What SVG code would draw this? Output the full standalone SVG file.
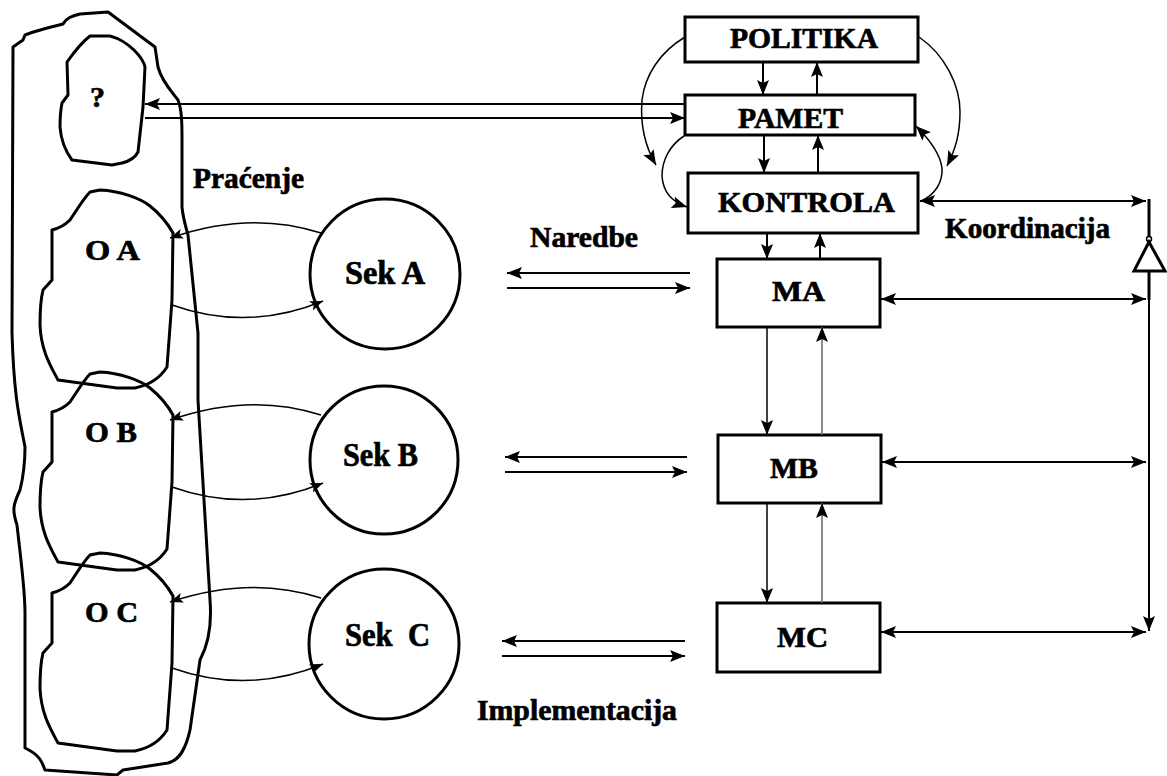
<svg xmlns="http://www.w3.org/2000/svg" width="1167" height="776" viewBox="0 0 1167 776">
<style>
.shape{fill:none;stroke:#000;stroke-width:3;stroke-linejoin:round}
.box{fill:#fff;stroke:#000;stroke-width:3}
.lbl{font-family:"Liberation Serif","Times New Roman",serif;font-weight:bold;font-size:30px;fill:#000;stroke:#000;stroke-width:0.7;white-space:pre}
.big{font-size:33px}
.ln{fill:none;stroke:#000;stroke-width:2}
.thin{fill:none;stroke:#000;stroke-width:1.5}
.gray{fill:none;stroke:#666;stroke-width:1.5}
</style>
<defs>
<marker id="ah" viewBox="0 0 15 12" refX="15" refY="6" markerWidth="15" markerHeight="12" orient="auto-start-reverse" markerUnits="userSpaceOnUse">
<path d="M0,0 L15,6 L0,12 L3,6 z" fill="#000"/>
</marker>
<marker id="ahs" viewBox="0 0 13 10" refX="13" refY="5" markerWidth="13" markerHeight="10" orient="auto-start-reverse" markerUnits="userSpaceOnUse">
<path d="M0,0 L13,5 L0,10 L3,5 z" fill="#000"/>
</marker>
<path id="oshape" d="M52,230 C60,228 65,225 70,220 C78,208 84,198 90,192 L100,190 C120,191 140,198 150,206 C160,214 168,224 173,233 L172,300 L167,367 C160,378 150,385 135,388 L117,388 L58,380 C50,365 41,350 40,325 C40,310 41,298 43,290 L52,280 Z"/>
</defs>

<g id="outer">
<path class="shape" d="M13,47 L23,40 L25,35 C35,31 55,26 63,24 C66,18 72,16 80,14 L108,12 L155,47 L158,67 C162,82 172,92 178,100 C182,110 182,125 182,140 L182,207 C183,218 186,228 188,235 L198,333 L198,400 L210,600 C212,625 208,645 200,660 L190,730 C186,748 180,760 168,763 L123,770 L117,775 L45,770 C42,762 40,755 25,748 L25,613 C25,590 22,570 17,525 C12,510 13,505 20,490 C25,470 25,455 25,447 C20,420 14,400 12,333 Z"/>
</g>

<g id="node-q">
<path class="shape" d="M67,62 C72,55 82,42 90,36 L110,36 C118,38 128,44 134,50 C140,56 144,62 145,67 L143,107 L138,152 C135,158 130,161 122,163 L112,165 L72,160 C66,152 61,140 60,127 C60,115 61,108 62,103 L68,95 Z"/>
<text class="lbl" x="90" y="107" textLength="15" lengthAdjust="spacingAndGlyphs">?</text>
</g>

<g id="node-oa">
<use href="#oshape" class="shape"/>
<text class="lbl" x="85" y="260" textLength="55" lengthAdjust="spacingAndGlyphs">O A</text>
</g>
<g id="node-ob">
<use href="#oshape" class="shape" transform="translate(0,182)"/>
<text class="lbl" x="85" y="442" textLength="52" lengthAdjust="spacingAndGlyphs">O B</text>
</g>
<g id="node-oc">
<use href="#oshape" class="shape" transform="translate(0,363)"/>
<text class="lbl" x="85" y="622" textLength="53" lengthAdjust="spacingAndGlyphs">O C</text>
</g>

<g id="node-seka">
<circle class="shape" cx="385" cy="274" r="75"/>
<text class="lbl big" x="345" y="284" textLength="80" lengthAdjust="spacingAndGlyphs">Sek A</text>
</g>
<g id="node-sekb">
<circle class="shape" cx="384" cy="460" r="74"/>
<text class="lbl big" x="343" y="466" textLength="75" lengthAdjust="spacingAndGlyphs">Sek B</text>
</g>
<g id="node-sekc">
<circle class="shape" cx="384" cy="644" r="75"/>
<text class="lbl big" x="345" y="646" textLength="85" lengthAdjust="spacingAndGlyphs">Sek  C</text>
</g>

<g id="node-politika">
<rect class="box" x="685" y="17" width="233" height="45"/>
<text class="lbl" x="730" y="48" textLength="148" lengthAdjust="spacingAndGlyphs">POLITIKA</text>
</g>
<g id="node-pamet">
<rect class="box" x="685" y="95" width="230" height="40"/>
<text class="lbl" x="738" y="128" textLength="105" lengthAdjust="spacingAndGlyphs">PAMET</text>
</g>
<g id="node-kontrola">
<rect class="box" x="688" y="173" width="230" height="60"/>
<text class="lbl" x="718" y="212" textLength="177" lengthAdjust="spacingAndGlyphs">KONTROLA</text>
</g>
<g id="node-ma">
<rect class="box" x="717" y="259" width="163" height="68"/>
<text class="lbl" x="772" y="301" textLength="53" lengthAdjust="spacingAndGlyphs">MA</text>
</g>
<g id="node-mb">
<rect class="box" x="718" y="435" width="163" height="68"/>
<text class="lbl" x="770" y="478" textLength="48" lengthAdjust="spacingAndGlyphs">MB</text>
</g>
<g id="node-mc">
<rect class="box" x="717" y="603" width="163" height="69"/>
<text class="lbl" x="777" y="647" textLength="51" lengthAdjust="spacingAndGlyphs">MC</text>
</g>

<g id="labels">
<text class="lbl" x="193" y="188" textLength="111" lengthAdjust="spacingAndGlyphs">Praćenje</text>
<text class="lbl" x="530" y="247" textLength="108" lengthAdjust="spacingAndGlyphs">Naredbe</text>
<text class="lbl" x="477" y="720" textLength="200" lengthAdjust="spacingAndGlyphs">Implementacija</text>
<text class="lbl" x="945" y="238" textLength="165" lengthAdjust="spacingAndGlyphs">Koordinacija</text>
</g>

<g id="connectors">
<line class="ln" x1="685" y1="104" x2="145" y2="104" marker-end="url(#ah)"/>
<line class="ln" x1="145" y1="118" x2="685" y2="118" marker-end="url(#ah)"/>
<path class="thin" d="M321,233 Q250,210 170,238" marker-end="url(#ahs)"/>
<path class="thin" d="M172,305 Q248,332 323,301" marker-end="url(#ahs)"/>
<path class="thin" d="M321,415 Q250,392 170,420" marker-end="url(#ahs)"/>
<path class="thin" d="M172,487 Q248,514 323,483" marker-end="url(#ahs)"/>
<path class="thin" d="M321,598 Q250,575 170,602" marker-end="url(#ahs)"/>
<path class="thin" d="M172,668 Q248,695 323,664" marker-end="url(#ahs)"/>
<line class="ln" x1="690" y1="273" x2="507" y2="273" marker-end="url(#ah)"/>
<line class="ln" x1="507" y1="288" x2="690" y2="288" marker-end="url(#ah)"/>
<line class="ln" x1="687" y1="457" x2="505" y2="457" marker-end="url(#ah)"/>
<line class="ln" x1="505" y1="472" x2="687" y2="472" marker-end="url(#ah)"/>
<line class="ln" x1="685" y1="641" x2="502" y2="641" marker-end="url(#ah)"/>
<line class="ln" x1="502" y1="656" x2="685" y2="656" marker-end="url(#ah)"/>
<line class="ln" x1="763" y1="62" x2="763" y2="95" marker-end="url(#ah)"/>
<line class="ln" x1="817" y1="95" x2="817" y2="62" marker-end="url(#ah)"/>
<line class="ln" x1="764" y1="135" x2="764" y2="173" marker-end="url(#ah)"/>
<line class="ln" x1="818" y1="173" x2="818" y2="135" marker-end="url(#ah)"/>
<line class="ln" x1="767" y1="233" x2="767" y2="259" marker-end="url(#ah)"/>
<line class="ln" x1="820" y1="259" x2="820" y2="233" marker-end="url(#ah)"/>
<line class="thin" x1="767" y1="327" x2="767" y2="435" marker-end="url(#ah)"/>
<line class="gray" x1="822" y1="435" x2="822" y2="327" marker-end="url(#ah)"/>
<line class="thin" x1="767" y1="503" x2="767" y2="603" marker-end="url(#ah)"/>
<line class="gray" x1="822" y1="603" x2="822" y2="503" marker-end="url(#ah)"/>
<path class="thin" d="M685,37 C660,52 645,75 642,100 C640,125 646,148 656,165" marker-end="url(#ah)"/>
<path class="thin" d="M684,136 C670,145 662,160 662,176 C663,192 672,202 687,207" marker-end="url(#ah)"/>
<path class="thin" d="M919,37 C945,55 960,85 960,112 C960,135 955,150 947,166" marker-end="url(#ah)"/>
<path class="thin" d="M916,126 C928,138 940,152 942,168 C943,182 935,195 921,201" marker-start="url(#ah)"/>
<line class="ln" x1="920" y1="201" x2="1146" y2="201" marker-start="url(#ah)" marker-end="url(#ah)"/>
<line class="ln" x1="881" y1="299" x2="1146" y2="299" marker-start="url(#ah)" marker-end="url(#ah)"/>
<line class="ln" x1="882" y1="462" x2="1146" y2="462" marker-start="url(#ah)" marker-end="url(#ah)"/>
<line class="ln" x1="881" y1="632" x2="1146" y2="632" marker-start="url(#ah)" marker-end="url(#ah)"/>
<line x1="1149" y1="199" x2="1149" y2="238" stroke="#000" stroke-width="3"/>
<circle cx="1149" cy="239" r="2.5" fill="#fff" stroke="#000" stroke-width="1.5"/>
<path d="M1149,242 L1134,271 L1165,271 Z" fill="#fff" stroke="#000" stroke-width="3" stroke-linejoin="miter"/>
<line x1="1149" y1="271" x2="1149" y2="300" stroke="#000" stroke-width="3"/>
<line class="ln" x1="1149" y1="300" x2="1149" y2="631" marker-end="url(#ah)"/>
</g>
</svg>
